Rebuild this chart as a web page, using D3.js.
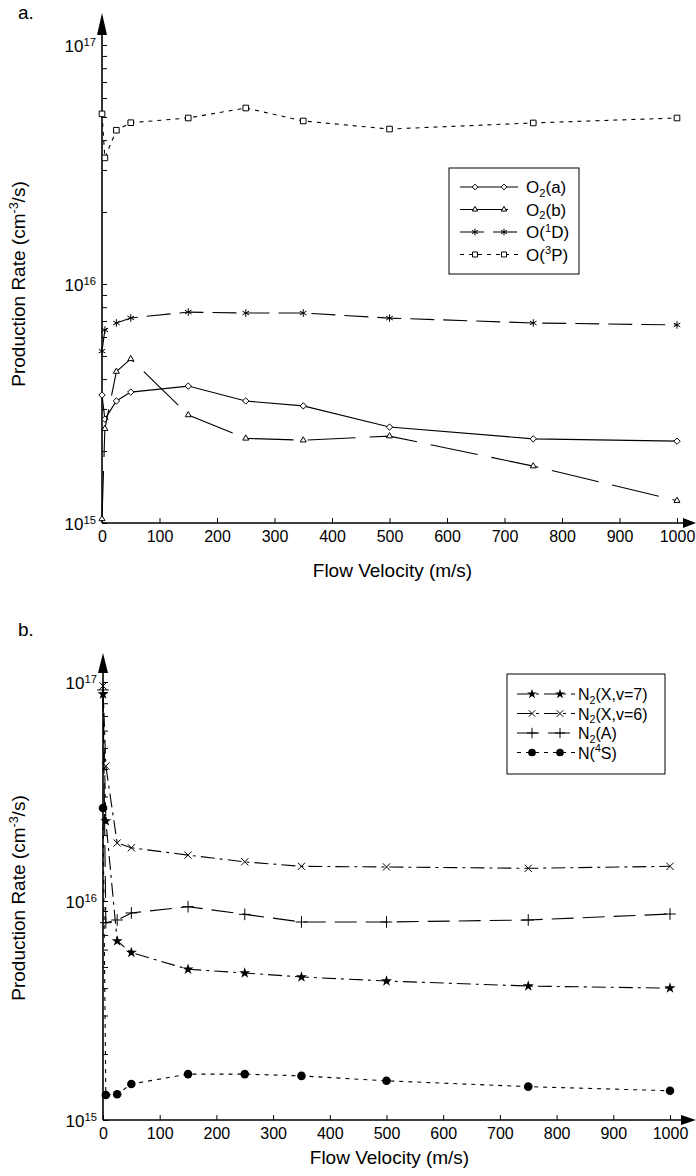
<!DOCTYPE html>
<html><head><meta charset="utf-8">
<script src="https://cdn.jsdelivr.net/npm/d3@7"></script>
<style>
body{margin:0;background:#fff;}
svg text{font-family:"Liberation Sans",Arial,sans-serif;fill:#000;}
</style></head><body>
<svg id="c" width="696" height="1176"></svg>
<script>
// ---------- data ----------
const velocities = [0, 5, 25, 50, 150, 250, 350, 500, 750, 1000];
const xTickLabels = [0, 100, 200, 300, 400, 500, 600, 700, 800, 900, 1000];
const yMajorTicks = [1e15, 1e16, 1e17];
const yExponents = ["15", "16", "17"];

// panel a
const o2a = [3.43e15, 2.72e15, 3.24e15, 3.53e15, 3.74e15, 3.24e15, 3.09e15, 2.52e15, 2.25e15, 2.20e15];
const o2b = [1.04e15, 2.48e15, 4.30e15, 4.86e15, 2.83e15, 2.26e15, 2.22e15, 2.31e15, 1.73e15, 1.24e15];
const o1d = [5.24e15, 6.42e15, 6.87e15, 7.21e15, 7.63e15, 7.56e15, 7.56e15, 7.20e15, 6.87e15, 6.74e15];
const o3p = [5.15e16, 3.37e16, 4.40e16, 4.73e16, 4.95e16, 5.45e16, 4.81e16, 4.45e16, 4.72e16, 4.95e16];

// panel b
const n2x7 = [8.8e16, 2.32e16, 6.57e15, 5.81e15, 4.88e15, 4.69e15, 4.50e15, 4.31e15, 4.09e15, 4.00e15];
const n2x6 = [9.6e16, 4.13e16, 1.84e16, 1.75e16, 1.62e16, 1.51e16, 1.44e16, 1.43e16, 1.41e16, 1.44e16];
const n2A  = [9.2e16, 7.96e15, 8.19e15, 8.82e15, 9.42e15, 8.69e15, 8.02e15, 8.02e15, 8.19e15, 8.72e15];
const n4s  = [2.66e16, 1.30e15, 1.31e15, 1.46e15, 1.62e15, 1.62e15, 1.59e15, 1.51e15, 1.42e15, 1.36e15];

// ---------- styles ----------
const seriesA = [
  {name: [["O",""],["2","sub"],["(a)",""]], values: o2a, dash: null, sym: d3.symbolDiamond2, size: 26, fill: "#fff"},
  {name: [["O",""],["2","sub"],["(b)",""]], values: o2b, dash: "48,14", sym: d3.symbolTriangle2, size: 26, fill: "#fff"},
  {name: [["O(",""],["1","sup"],["D)",""]], values: o1d, dash: "24,9", sym: d3.symbolAsterisk, size: 40, fill: "none"},
  {name: [["O(",""],["3","sup"],["P)",""]], values: o3p, dash: "4,5", sym: d3.symbolSquare2, size: 40, fill: "#fff"}
];
const seriesB = [
  {name: [["N",""],["2","sub"],["(X,v=7)",""]], values: n2x7, dash: "14,5,3,5", sym: d3.symbolStar, size: 38, fill: "#000", filled: true},
  {name: [["N",""],["2","sub"],["(X,v=6)",""]], values: n2x6, dash: "14,5,3,5", sym: d3.symbolTimes, size: 36, fill: "none"},
  {name: [["N",""],["2","sub"],["(A)",""]], values: n2A, dash: "22,9", sym: d3.symbolPlus, size: 46, fill: "none"},
  {name: [["N(",""],["4","sup"],["S)",""]], values: n4s, dash: "4,5", sym: d3.symbolCircle, size: 58, fill: "#000", filled: true}
];

const svg = d3.select("#c");

function richText(sel, parts, fs) {
  let off = 0;
  parts.forEach(([t, k]) => {
    const ts = sel.append("tspan").text(t);
    const target = k === "sub" ? fs * 0.22 : k === "sup" ? -fs * 0.38 : 0;
    if (k) ts.attr("font-size", fs * 0.66);
    ts.attr("dy", target - off);
    off = target;
  });
}

function panel(cfg, series) {
  const x = d3.scaleLinear().domain([0, 1000]).range([cfg.x0, cfg.x1]);
  const y = d3.scaleLog().domain([1e15, 1e17]).range([cfg.yB, cfg.yT]);
  const g = svg.append("g");

  // y ticks (majors + minors)
  const yTicks = [];
  for (let e = 15; e <= 16; e++) for (let m = 1; m <= 9; m++) yTicks.push(m * Math.pow(10, e));
  yTicks.push(1e17);
  const ya = g.append("g").attr("transform", `translate(${x(0)},0)`)
    .call(d3.axisLeft(y).tickValues(yTicks).tickSizeInner(-5).tickSizeOuter(0).tickFormat(""));
  ya.select(".domain").remove();
  ya.selectAll("line").attr("stroke", "#000").attr("stroke-width", 1);

  // x axis
  const xa = g.append("g").attr("transform", `translate(0,${y(1e15)})`)
    .call(d3.axisBottom(x).tickValues(xTickLabels).tickFormat(d3.format("d"))
      .tickSizeInner(-5).tickSizeOuter(0).tickPadding(8));
  xa.select(".domain").remove();
  xa.selectAll("line").attr("stroke", "#000");
  xa.selectAll("text").attr("font-size", 16).attr("font-family", '"Liberation Sans",Arial,sans-serif').attr("fill", "#000");

  // axis lines + arrows
  g.append("line").attr("x1", x(0)).attr("x2", x(0)).attr("y1", y(1e15)).attr("y2", cfg.arrowBaseY)
    .attr("stroke", "#000").attr("stroke-width", 1.6);
  g.append("path").attr("d", `M${x(0)},${cfg.arrowTipY} L${x(0) - 5},${cfg.arrowBaseY} L${x(0) + 5},${cfg.arrowBaseY} Z`).attr("fill", "#000");
  g.append("line").attr("x1", x(0)).attr("x2", cfg.arrowBaseX).attr("y1", y(1e15)).attr("y2", y(1e15))
    .attr("stroke", "#000").attr("stroke-width", 1.6);
  g.append("path").attr("d", `M${cfg.arrowTipX},${y(1e15)} L${cfg.arrowBaseX},${y(1e15) - 5} L${cfg.arrowBaseX},${y(1e15) + 5} Z`).attr("fill", "#000");

  // y major labels
  yMajorTicks.forEach((v, i) => {
    const t = g.append("text").attr("x", x(0) - 6).attr("y", y(v) + 7).attr("text-anchor", "end").attr("font-size", 17);
    richText(t, [["10", ""], [yExponents[i], "sup"]], 17);
  });

  // titles
  g.append("text").attr("x", (x(0) + x(1000)) / 2 + 3).attr("y", cfg.xTitleY).attr("text-anchor", "middle")
    .attr("font-size", 19).text("Flow Velocity (m/s)");
  const yt = g.append("text").attr("transform", `translate(${cfg.yTitleX},${cfg.yTitleY}) rotate(-90)`)
    .attr("text-anchor", "middle").attr("font-size", 19);
  richText(yt, [["Production Rate (cm", ""], ["-3", "sup"], ["/s)", ""]], 19);
  g.append("text").attr("x", cfg.tagX).attr("y", cfg.tagY).attr("font-size", 19).text(cfg.tag);

  // series
  const line = d3.line().x((d, i) => x(velocities[i])).y(d => y(d));
  series.forEach(s => {
    g.append("path").datum(s.values).attr("d", line).attr("fill", "none").attr("stroke", "#000")
      .attr("stroke-width", 1.1).attr("stroke-dasharray", s.dash);
    g.selectAll(null).data(s.values).enter().append("path")
      .attr("transform", (d, i) => `translate(${x(velocities[i])},${y(d)})`)
      .attr("d", d3.symbol().type(s.sym).size(s.size))
      .attr("fill", s.fill).attr("stroke", s.filled ? "none" : "#000").attr("stroke-width", 1);
  });

  // legend
  const L = cfg.legend;
  g.append("rect").attr("x", L.x).attr("y", L.y).attr("width", L.w).attr("height", L.h)
    .attr("fill", "#fff").attr("stroke", "#000").attr("stroke-width", 1);
  series.forEach((s, i) => {
    const ry = L.row0 + i * L.rowStep;
    g.append("line").attr("x1", L.lx0).attr("x2", L.lx1).attr("y1", ry).attr("y2", ry)
      .attr("stroke", "#000").attr("stroke-width", 1.1).attr("stroke-dasharray", s.dash);
    [L.m0, L.m1].forEach(mx => {
      g.append("path").attr("transform", `translate(${mx},${ry})`)
        .attr("d", d3.symbol().type(s.sym).size(s.size * 0.8))
        .attr("fill", s.fill).attr("stroke", s.filled ? "none" : "#000").attr("stroke-width", 1);
    });
    const t = g.append("text").attr("x", L.tx).attr("y", ry + 6).attr("font-size", L.fs);
    richText(t, s.name, L.fs);
  });
}

panel({x0: 102, x1: 677, yB: 523, yT: 45, arrowTipY: 13, arrowBaseY: 35, arrowBaseX: 683, arrowTipX: 696,
  xTitleY: 577, yTitleX: 25, yTitleY: 284, tag: "a.", tagX: 18, tagY: 19,
  legend: {x: 449, y: 168, w: 130, h: 106, row0: 187, rowStep: 22.5, lx0: 460, lx1: 518, m0: 475, m1: 504, tx: 526, fs: 17}
}, seriesA);

panel({x0: 103, x1: 670, yB: 1120, yT: 682, arrowTipY: 653, arrowBaseY: 673, arrowBaseX: 681, arrowTipX: 696,
  xTitleY: 1164, yTitleX: 25, yTitleY: 898, tag: "b.", tagX: 18, tagY: 636,
  legend: {x: 507, y: 674, w: 158, h: 100, row0: 694, rowStep: 19.5, lx0: 517, lx1: 575, m0: 532, m1: 560, tx: 578, fs: 16}
}, seriesB);
</script>
</body></html>
